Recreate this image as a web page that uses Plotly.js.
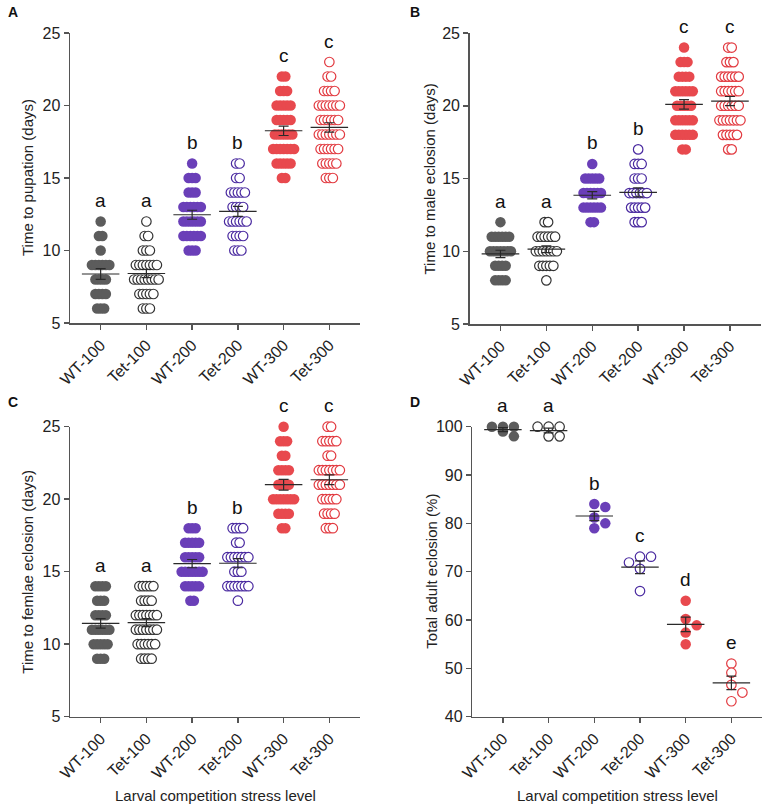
<!DOCTYPE html>
<html><head><meta charset="utf-8">
<script src="https://cdn.plot.ly/plotly-3.0.1.min.js"></script>
<style>html,body{margin:0;padding:0;background:#fff}</style>
</head><body><div id="chart" style="width:767px;height:808px"></div>
<script>
// ---------------- DATA ----------------
const groups = ['WT-100','Tet-100','WT-200','Tet-200','WT-300','Tet-300'];

// Panel A: time to pupation (days) -> value rows and number of larvae per row
const pupationDays = [
  [6,7,8,9,10,11,12],
  [6,7,8,9,10,11,12],
  [10,11,12,13,14,15,16],
  [10,11,12,13,14,15,16],
  [15,16,17,18,19,20,21,22],
  [15,16,17,18,19,20,21,22,23]
];
const pupationCounts = [
  [3,4,4,6,1,2,1],
  [3,5,8,7,3,2,1],
  [3,6,6,6,3,3,1],
  [3,4,6,4,5,2,2],
  [2,5,7,6,5,5,3,2],
  [3,5,6,7,6,7,4,2,1]
];

// Panel B: time to male eclosion (days)
const maleDays = [
  [8,9,10,11,12],
  [8,9,10,11,12],
  [12,13,14,15,16],
  [12,13,14,15,16,17],
  [17,18,19,20,21,22,23,24],
  [17,18,19,20,21,22,23,24]
];
const maleCounts = [
  [4,4,7,6,1],
  [1,5,7,6,2],
  [2,6,6,5,1],
  [3,5,6,3,3,1],
  [2,6,6,5,6,4,3,1],
  [2,5,7,6,6,6,3,2]
];

// Panel C: time to female eclosion (days)
const femaleDays = [
  [9,10,11,12,13,14],
  [9,10,11,12,13,14],
  [13,14,15,16,17,18],
  [13,14,15,16,17,18],
  [18,19,20,21,22,23,24,25],
  [18,19,20,21,22,23,24,25]
];
const femaleCounts = [
  [3,5,6,4,3,4],
  [4,6,7,7,4,5],
  [2,5,7,5,5,3],
  [1,7,3,7,2,4],
  [2,4,7,4,4,2,3,1],
  [3,4,5,7,7,2,5,2]
];

// Panel D: total adult eclosion (%) per replicate
const eclosionPct = [
  [100,100,100,99,98],
  [100,100,100,98,98],
  [84.0,83.4,81.2,80.0,79.0],
  [73.1,73.1,71.9,70.6,66.0],
  [64.0,60.2,58.9,57.4,55.0],
  [51.0,49.1,46.6,45.0,43.2]
];

const lettersA = ['a','a','b','b','c','c'];
const lettersB = ['a','a','b','b','c','c'];
const lettersC = ['a','a','b','b','c','c'];
const lettersD = ['a','a','b','c','d','e'];

const yTitles = ['Time to pupation (days)','Time to male eclosion (days)',
                 'Time to femlae eclosion (days)','Total adult eclosion (%)'];
const xTitle = 'Larval competition stress level';
const panelLabels = ['A','B','C','D'];

// ---------------- STYLE ----------------
const W = 767, H = 808;
const FONT = 'Liberation Sans, Arial, sans-serif';
const fillCol = ['#5c5c5c','#ffffff','#6a3fb8','#ffffff','#e8494e','#ffffff'];
const lineCol = ['#5c5c5c','#333333','#6a3fb8','#4a2aa0','#e8494e','#e23a40'];
const XR = [-0.67, 5.67];
const panelsPx = [
  {x:[70,360], y:[33,323]},
  {x:[469.7,760.7], y:[33,324]},
  {x:[70,360], y:[426.7,716.7]},
  {x:[472.3,762], y:[426.7,716.7]}
];
const yRanges = [[5,25],[5,25],[5,25],[40,100]];
const yTicks = [[5,10,15,20,25],[5,10,15,20,25],[5,10,15,20,25],[40,50,60,70,80,90,100]];

function pxPerX(p){ return (p.x[1]-p.x[0])/(XR[1]-XR[0]); }

// row layout for integer-day data
function rowSwarm(days, counts, gi, p){
  const dx = 3.5 / pxPerX(p);
  const xs=[], ys=[];
  days.forEach((d,k)=>{
    const n = counts[k];
    for(let i=0;i<n;i++){ xs.push(gi + (i-(n-1)/2)*dx); ys.push(d); }
  });
  return {xs, ys};
}
// lattice beeswarm for continuous data (step s px, collision diameter diam px)
function beeSwarm(vals, gi, p, yr){
  const ppx = pxPerX(p), ppy = (p.y[1]-p.y[0])/(yr[1]-yr[0]);
  const s = 11, diam = 9;
  const cands = [0, s, -s];
  const order = vals.map((v,i)=>i).sort((a,b)=>vals[b]-vals[a]);
  const placed=[]; const xs=new Array(vals.length), ys=new Array(vals.length);
  order.forEach(i=>{
    const yp = vals[i]*ppy;
    let best=0, bestD=-1;
    for(const c of cands){
      const dmin = placed.length ? Math.min(...placed.map(q=>Math.hypot(q[0]-c,q[1]-yp))) : Infinity;
      if(dmin>=diam){ best=c; bestD=Infinity; break; }
      if(dmin>bestD){ bestD=dmin; best=c; }
    }
    placed.push([best,yp]);
    xs[i]=gi+best/ppx; ys[i]=vals[i];
  });
  return {xs, ys};
}
function expand(days, counts){
  const out=[]; days.forEach((d,k)=>{for(let i=0;i<counts[k];i++) out.push(d);}); return out;
}
function meanSem(v){
  const n=v.length, m=v.reduce((a,b)=>a+b,0)/n;
  const sd=Math.sqrt(v.reduce((a,b)=>a+(b-m)*(b-m),0)/(n-1));
  return [m, sd/Math.sqrt(n)];
}

const traces=[]; const annotations=[]; const layout={
  width:W, height:H, margin:{l:0,r:0,t:0,b:0}, showlegend:false,
  paper_bgcolor:'#fff', plot_bgcolor:'#fff', font:{family:FONT, color:'#222'}
};

const dayData = [[pupationDays,pupationCounts],[maleDays,maleCounts],[femaleDays,femaleCounts]];
const letterSets = [lettersA, lettersB, lettersC, lettersD];

for(let pi=0; pi<4; pi++){
  const p = panelsPx[pi];
  const sfx = pi===0?'':String(pi+1);
  const xa='x'+sfx, ya='y'+sfx;
  layout['xaxis'+sfx] = {
    domain:[p.x[0]/W, p.x[1]/W], anchor:ya, range:XR,
    tickvals:[0,1,2,3,4,5], ticktext:groups, tickangle:-45,
    showline:true, linecolor:'#555', linewidth:1.5, ticks:'outside', ticklen:5,
    tickwidth:1.5, tickcolor:'#555', showgrid:false, zeroline:false,
    tickfont:{size:16, family:FONT, color:'#222'}
  };
  layout['yaxis'+sfx] = {
    domain:[1-p.y[1]/H, 1-p.y[0]/H], anchor:xa, range:yRanges[pi],
    tickvals:yTicks[pi], showline:true, linecolor:'#555', linewidth:1.5,
    ticks:'outside', ticklen:5, tickwidth:1.5, tickcolor:'#555',
    showgrid:false, zeroline:false, tickfont:{size:16, family:FONT, color:'#222'}
  };
  const means=[], sems=[];
  for(let gi=0; gi<6; gi++){
    let pts, raw;
    if(pi<3){
      const days=dayData[pi][0][gi], counts=dayData[pi][1][gi];
      pts = rowSwarm(days, counts, gi, p);
      raw = expand(days, counts);
    } else {
      raw = eclosionPct[gi];
      pts = beeSwarm(raw, gi, p, yRanges[pi]);
    }
    const open = gi%2===1;
    traces.push({
      type:'scatter', mode:'markers', x:pts.xs, y:pts.ys, xaxis:xa, yaxis:ya,
      cliponaxis:false, hoverinfo:'skip',
      marker:{size: open?9.5:10.5, color:fillCol[gi], opacity:1,
              line:{color:lineCol[gi], width: open?1.2:0}}
    });
    const ms = meanSem(raw); means.push(ms[0]); sems.push(ms[1]);
    annotations.push({x:gi, y:Math.max(...raw), xref:xa, yref:ya, yshift:21,
      text:letterSets[pi][gi], showarrow:false, font:{size:19, family:FONT, color:'#111'}});
  }
  traces.push({
    type:'scatter', mode:'markers', x:[0,1,2,3,4,5], y:means, xaxis:xa, yaxis:ya,
    cliponaxis:false, hoverinfo:'skip', marker:{size:1, color:'rgba(0,0,0,0)'},
    error_x:{type:'constant', value:0.41, width:0, thickness:1.2, color:'#2a2a2a'},
    error_y:{type:'data', array:sems, width:5, thickness:1.2, color:'#2a2a2a'}
  });
  // y title
  const titleX = [28,429,28,432][pi];
  annotations.push({x:titleX/W, y:1-((p.y[0]+p.y[1])/2)/H, xref:'paper', yref:'paper',
    text:yTitles[pi], textangle:-90, showarrow:false, xanchor:'center', yanchor:'middle',
    font:{size:15, family:FONT, color:'#222'}});
  // panel label
  const lab = [[6,12],[408,12],[6,402],[408,402]][pi];
  annotations.push({x:lab[0]/W, y:1-lab[1]/H, xref:'paper', yref:'paper', xanchor:'left',
    yanchor:'middle', text:'<b>'+panelLabels[pi]+'</b>', showarrow:false,
    font:{size:14, family:FONT, color:'#111'}});
  if(pi>=2){
    annotations.push({x:((p.x[0]+p.x[1])/2)/W, y:1-795/H, xref:'paper', yref:'paper',
      text:xTitle, showarrow:false, xanchor:'center', yanchor:'middle',
      font:{size:15, family:FONT, color:'#222'}});
  }
}
layout.annotations = annotations;
Plotly.newPlot('chart', traces, layout, {displayModeBar:false, staticPlot:true});
</script></body></html>
